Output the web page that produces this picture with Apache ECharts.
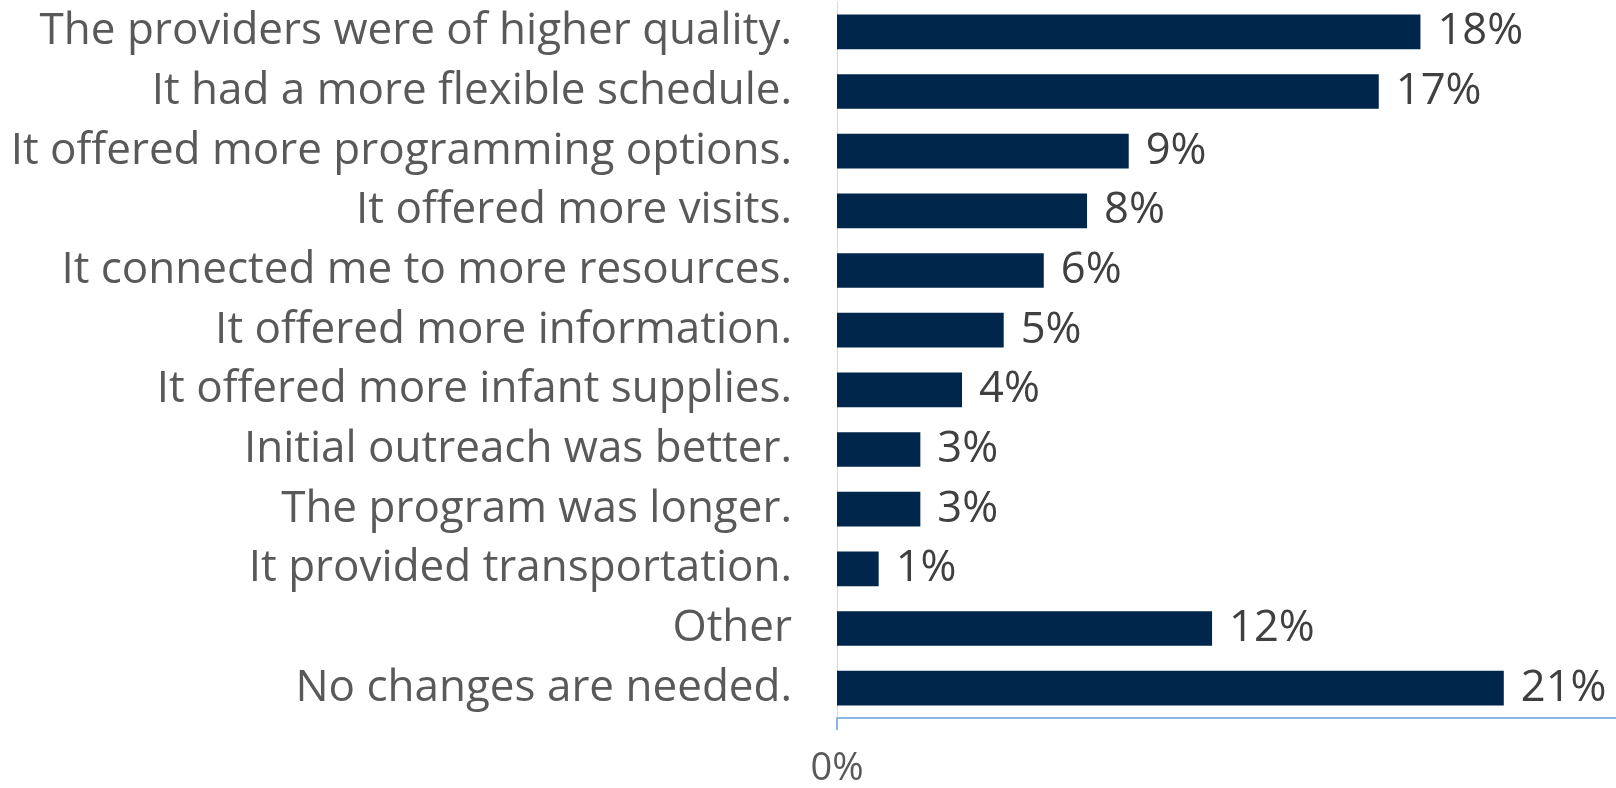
<!DOCTYPE html>
<html>
<head>
<meta charset="utf-8">
<script src="https://cdn.jsdelivr.net/npm/echarts@6/dist/echarts.min.js"></script>
<style>
html,body{margin:0;padding:0;background:#fff;}
#chart{width:1616px;height:788px;}
</style>
</head>
<body>
<div id="chart"></div>
<script>
const categories = [
  "The providers were of higher quality.",
  "It had a more flexible schedule.",
  "It offered more programming options.",
  "It offered more visits.",
  "It connected me to more resources.",
  "It offered more information.",
  "It offered more infant supplies.",
  "Initial outreach was better.",
  "The program was longer.",
  "It provided transportation.",
  "Other",
  "No changes are needed."
];
const values = [18.2, 16.9, 9.1, 7.8, 6.45, 5.2, 3.9, 2.6, 2.6, 1.3, 11.7, 20.8];
const axisMax = 24.3;

const chart = echarts.init(document.getElementById('chart'), null, {renderer: 'canvas'});
chart.setOption({
  animation: false,
  backgroundColor: '#ffffff',
  grid: {left: 837, right: 0, top: 2, bottom: 64.5, containLabel: false},
  xAxis: {
    type: 'value',
    min: 0,
    max: axisMax,
    interval: 50,
    splitLine: {show: false},
    axisLine: {show: true, lineStyle: {color: '#8eb4e3', width: 2}},
    axisTick: {show: true, length: 12, lineStyle: {color: '#8eb4e3', width: 2}},
    axisLabel: {
      show: true,
      margin: 32,
      color: '#595959',
      fontFamily: 'Open Sans',
      fontSize: 38,
      showMaxLabel: false,
      formatter: function (v) { return v === 0 ? '0%' : ''; }
    }
  },
  yAxis: {
    type: 'category',
    data: categories,
    inverse: true,
    axisLine: {show: true, lineStyle: {color: '#d9d9d9', width: 1}},
    axisTick: {show: false},
    axisLabel: {
      margin: 45,
      color: '#595959',
      fontFamily: 'Open Sans',
      fontSize: 44
    }
  },
  series: [{
    type: 'bar',
    data: values,
    barWidth: '58%',
    itemStyle: {color: '#00264b'},
    label: {
      show: true,
      position: 'right',
      distance: 17,
      color: '#404040',
      fontFamily: 'Open Sans',
      fontSize: 43.5,
      formatter: function (p) { return Math.round(p.value) + '%'; }
    }
  }]
});
</script>
</body>
</html>
